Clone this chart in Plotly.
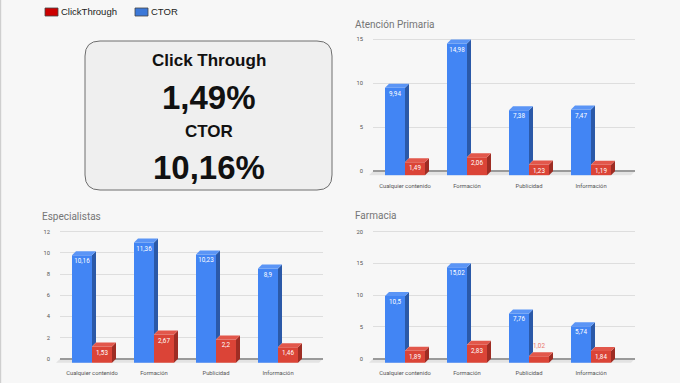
import plotly.graph_objects as go

# ---------------- data ----------------
categories = ["Cualquier contenido", "Formación", "Publicidad", "Información"]

ap_ctor = [9.94, 14.98, 7.38, 7.47]
ap_ct = [1.49, 2.06, 1.23, 1.19]
ap_ticks = [0, 5, 10, 15]

esp_ctor = [10.16, 11.36, 10.23, 8.9]
esp_ct = [1.53, 2.67, 2.2, 1.46]
esp_ticks = [0, 2, 4, 6, 8, 10, 12]

far_ctor = [10.5, 15.02, 7.76, 5.74]
far_ct = [1.89, 2.83, 1.02, 1.84]
far_ticks = [0, 5, 10, 15, 20]

kpi_labels = ["Click Through", "CTOR"]
kpi_values = ["1,49%", "10,16%"]
series_names = ["ClickThrough", "CTOR"]

# ---------------- styles ----------------
W, H = 680, 383
BG = "#f7f7f7"
BLUE, BLUE_SIDE, BLUE_TOP = "#4285f4", "#2b59a8", "#5b95f6"
RED, RED_SIDE, RED_TOP = "#db4437", "#9e2d24", "#e2574b"
DEPTH_X, DEPTH_Y, BARW = 4.0, 4.0, 20.0
TICKFONT = dict(family="Roboto, Arial", size=5.8, color="#555555")

fig = go.Figure()


def fmt(v):
    return str(v).replace(".", ",")


panels = [
    dict(title="Atención Primaria", ctor=ap_ctor, ct=ap_ct, ticks=ap_ticks, ymax=15,
         ax="", left=373, right=635, c0=405, step=62, ytop=39.3, yzero=171.3,
         dtop=35, tx=353, ty=25),
    dict(title="Especialistas", ctor=esp_ctor, ct=esp_ct, ticks=esp_ticks, ymax=12,
         ax="2", left=60, right=323, c0=92, step=62, ytop=231.7, yzero=358.7,
         dtop=227, tx=40, ty=216),
    dict(title="Farmacia", ctor=far_ctor, ct=far_ct, ticks=far_ticks, ymax=20,
         ax="3", left=373, right=635, c0=405, step=62, ytop=231.7, yzero=358.7,
         dtop=227, tx=353, ty=215),
]

shapes = []
annotations = []

for p in panels:
    xa, ya = "x" + p["ax"], "y" + p["ax"]
    ppu = (p["yzero"] - p["ytop"]) / p["ymax"]
    dy = DEPTH_Y / ppu
    dxu = DEPTH_X / p["step"]
    w = BARW / p["step"]
    dbot = p["yzero"] + DEPTH_Y + 0.5
    yr = [-(dbot - p["yzero"]) / ppu, (p["yzero"] - p["dtop"]) / ppu]
    xr = [(p["left"] - p["c0"]) / p["step"], (p["right"] - p["c0"]) / p["step"]]
    idx = list(range(len(categories)))

    # front faces
    fig.add_trace(go.Bar(x=[i - w / 2 for i in idx], y=p["ctor"], base=-dy, width=w,
                         marker=dict(color=BLUE, line=dict(width=0)), xaxis=xa, yaxis=ya,
                         showlegend=False, hoverinfo="skip"))
    fig.add_trace(go.Bar(x=[i + w / 2 for i in idx], y=p["ct"], base=-dy, width=w,
                         marker=dict(color=RED, line=dict(width=0)), xaxis=xa, yaxis=ya,
                         showlegend=False, hoverinfo="skip"))

    # 3D side / top faces derived from values
    bs_x, bs_y, bt_x, bt_y, rs_x, rs_y, rt_x, rt_y = ([] for _ in range(8))
    for i, b, r in zip(idx, p["ctor"], p["ct"]):
        xb = i - w
        bs_x += [i, i + dxu, i + dxu, i, None]
        bs_y += [r - dy, r, b, b - dy, None]
        bt_x += [xb, xb + w, xb + w + dxu, xb + dxu, None]
        bt_y += [b - dy, b - dy, b, b, None]
        xr0 = i
        rs_x += [xr0 + w, xr0 + w + dxu, xr0 + w + dxu, xr0 + w, None]
        rs_y += [-dy, 0, r, r - dy, None]
        rt_x += [xr0, xr0 + w, xr0 + w + dxu, xr0 + dxu, None]
        rt_y += [r - dy, r - dy, r, r, None]
    for fx, fy, col in [(bs_x, bs_y, BLUE_SIDE), (bt_x, bt_y, BLUE_TOP),
                        (rs_x, rs_y, RED_SIDE), (rt_x, rt_y, RED_TOP)]:
        fig.add_trace(go.Scatter(x=fx, y=fy, mode="lines", fill="toself", fillcolor=col,
                                 line=dict(width=0, color=col), xaxis=xa, yaxis=ya,
                                 showlegend=False, hoverinfo="skip"))

    # data labels
    lx, ly, lt, lc = [], [], [], []
    for i, b, r in zip(idx, p["ctor"], p["ct"]):
        for xc, v, outc in [(i - w / 2, b, "#8fb4f8"), (i + w / 2, r, "#e8766c")]:
            lx.append(xc)
            lt.append(fmt(v))
            if v * ppu > 9:
                ly.append(v - dy - 6.5 / ppu)
                lc.append("#ffffff")
            else:
                ly.append(v + 5.5 / ppu)
                lc.append(outc)
    fig.add_trace(go.Scatter(x=lx, y=ly, text=lt, mode="text", textposition="middle center",
                             textfont=dict(family="Roboto, Arial", size=6.3, color=lc),
                             xaxis=xa, yaxis=ya, showlegend=False, hoverinfo="skip"))

    # floor
    xl, xrr = p["left"] / W, p["right"] / W
    dxp = DEPTH_X / W
    shapes.append(dict(type="path", xref="paper", yref=ya, layer="below",
                       path=f"M {xl},0 L {xrr},0 L {xrr - dxp},{-dy} L {xl - dxp},{-dy} Z",
                       fillcolor="#e3e3e3", line=dict(width=0)))

    layout_x = dict(domain=[p["left"] / W, p["right"] / W], range=xr, tickvals=idx,
                    ticktext=categories, showgrid=False, zeroline=False, showline=False,
                    tickfont=TICKFONT, ticks="", ticklabelstandoff=5, fixedrange=True,
                    anchor=ya)
    layout_y = dict(domain=[1 - dbot / H, 1 - p["dtop"] / H], range=yr, tickvals=p["ticks"],
                    showgrid=True, gridcolor="#dedede", gridwidth=1, zeroline=True,
                    zerolinecolor="#9a9a9a", zerolinewidth=1.5, showline=False,
                    tickfont=TICKFONT, ticks="", ticklabelstandoff=9, anchor=xa)
    fig.layout["xaxis" + p["ax"]] = layout_x
    fig.layout["yaxis" + p["ax"]] = layout_y

    annotations.append(dict(text=p["title"], x=p["tx"] / W, y=1 - p["ty"] / H, xref="paper",
                            yref="paper", xanchor="left", yanchor="middle", showarrow=False,
                            font=dict(family="Roboto, Arial", size=10, color="#757575")))

# KPI box (rounded rectangle)
bx0, bx1, by0, by1, rad = 85, 332, 41, 190, 15
def P(x, y):
    return f"{x / W},{1 - y / H}"
box_path = (f"M {P(bx0 + rad, by0)} L {P(bx1 - rad, by0)} Q {P(bx1, by0)} {P(bx1, by0 + rad)} "
            f"L {P(bx1, by1 - rad)} Q {P(bx1, by1)} {P(bx1 - rad, by1)} "
            f"L {P(bx0 + rad, by1)} Q {P(bx0, by1)} {P(bx0, by1 - rad)} "
            f"L {P(bx0, by0 + rad)} Q {P(bx0, by0)} {P(bx0 + rad, by0)} Z")
shapes.append(dict(type="path", xref="paper", yref="paper", path=box_path, layer="below",
                   fillcolor="#efefef", line=dict(color="#6e6e6e", width=1)))

# thin left page border
shapes.append(dict(type="line", xref="paper", yref="paper", x0=0.6 / W, x1=0.6 / W, y0=0, y1=1,
                   line=dict(color="#cfcfcf", width=1.2)))

KPI_FONT = "Liberation Sans, Arial"
for txt, yy, sz in [(kpi_labels[0], 60, 17), (kpi_values[0], 97, 33),
                    (kpi_labels[1], 132, 17), (kpi_values[1], 167, 33)]:
    annotations.append(dict(text=f"<b>{txt}</b>", x=208.5 / W, y=1 - yy / H, xref="paper",
                            yref="paper", xanchor="center", yanchor="middle", showarrow=False,
                            font=dict(family=KPI_FONT, size=sz, color="#111111")))

# legend
for (sx, col, name) in [(45, "#cc0000", series_names[0]), (135, "#3c78d8", series_names[1])]:
    shapes.append(dict(type="rect", xref="paper", yref="paper", x0=sx / W, x1=(sx + 13) / W,
                       y0=1 - 16 / H, y1=1 - 8 / H, fillcolor=col,
                       line=dict(color="#444444", width=0.8)))
    annotations.append(dict(text=name, x=(sx + 14) / W, y=1 - 11.5 / H, xref="paper",
                            yref="paper", xanchor="left", yanchor="middle", showarrow=False,
                            font=dict(family="Liberation Sans, Arial", size=9.5, color="#222222")))

fig.update_layout(width=W, height=H, margin=dict(l=0, r=0, t=0, b=0),
                  paper_bgcolor=BG, plot_bgcolor="rgba(0,0,0,0)", barmode="overlay",
                  shapes=shapes, annotations=annotations, showlegend=False,
                  font=dict(family="Roboto, Arial"))

fig.write_html("out.html", config={"displayModeBar": False},
               post_script="document.body.style.margin='0';document.body.style.padding='0';"
                           "document.body.style.background='" + BG + "';")
